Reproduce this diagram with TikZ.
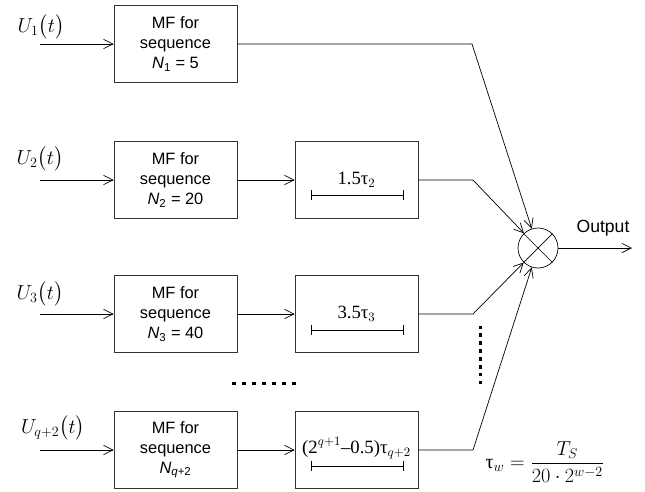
\documentclass[tikz,border=0pt]{standalone}
\usepackage{amsmath}
\usepackage{fontspec}
\setmainfont{Liberation Sans}
\newfontfamily\timesfont{Liberation Serif}
\usetikzlibrary{arrows.meta,calc}
\begin{document}
\begin{tikzpicture}[x=0.03cm,y=-0.03cm,line width=0.6pt,
		>={Straight Barb[length=8pt,width=8pt]},
		blk/.style={draw=black!80,minimum width=3.69cm,minimum height=2.31cm,inner sep=0pt,align=center,font=\fontsize{14}{17}\selectfont},
		sig/.style={inner sep=1pt,font=\fontsize{17}{20}\selectfont},
		tick/.style={{Bar[width=8pt]}-{Bar[width=8pt]},line width=0.5pt}]
		\newcommand{\mydelay}[1]{
			\timesfont\fontsize{16}{18}\selectfont{#1}
		}%Page frame
		\useasboundingbox (0,0) rectangle (645,491);
		%Signals at the inputs
		\node [sig] (u1) at (41,27) {$U_1\bigl(t\bigr)$};
		\node [sig] (u2) at (40,159) {$U_2\bigl(t\bigr)$};
		\node [sig] (u3) at (40,294) {$U_3\bigl(t\bigr)$};
		\node [sig] (u4) at (53,428) {$U_{q+2}\bigl(t\bigr)$};
		\coordinate (in1) at (40,44);
		\coordinate (in2) at (40,180);
		\coordinate (in3) at (40,314);
		\coordinate (in4) at (40,450);
		%Matched filters
		\node [blk] (mf1) at (175.5,44) {MF for\\sequence\\\textit{N}\textsubscript{1} = 5};
		\node [blk] (mf2) at (175.5,180) {MF for\\sequence\\\textit{N}\textsubscript{2} = 20};
		\node [blk] (mf3) at (175.5,314) {MF for\\sequence\\\textit{N}\textsubscript{3} = 40};
		\node [blk] (mf4) at (175.5,450) {MF for\\sequence\\\textit{N}\textsubscript{\textit{q}+2}};
		\draw [->] (in1) -- (mf1);
		\draw [->] (in2) -- (mf2);
		\draw [->] (in3) -- (mf3);
		\draw [->] (in4) -- (mf4);
		%Delay lines
		\node [blk] (dl2) at (356.5,180) {};
		\node [blk] (dl3) at (356.5,314) {};
		\node [blk] (dl4) at (356.5,450) {};
		\node [anchor=base] (dt2) at ($(dl2.center)+(0,4)$) {\mydelay{1.5τ$_{2}$}};
		\node [anchor=base] (dt3) at ($(dl3.center)+(0,4)$) {\mydelay{3.5τ$_{3}$}};
		\node [anchor=base] (dt4) at ($(dl4.center)+(0,3)$) {\mydelay{(2$^{q+1}$–0.5)τ$_{q+2}$}};
		\draw [tick] ($(dl2.center)+(-46,15)$) -- ($(dl2.center)+(47,15)$);
		\draw [tick] ($(dl3.center)+(-46,16)$) -- ($(dl3.center)+(47,16)$);
		\draw [tick] ($(dl4.center)+(-46,16)$) -- ($(dl4.center)+(47,16)$);
		\draw [->] (mf2) -- (dl2);
		\draw [->] (mf3) -- (dl3);
		\draw [->] (mf4) -- (dl4);
		%Summing node
		\node [draw,circle,minimum size=1.2cm,inner sep=0pt] (sum) at (538,248) {};
		\draw (sum.north west) -- (sum.south east);
		\draw (sum.north east) -- (sum.south west);
		%Bends before the summing node
		\coordinate (b1) at (472,44);
		\coordinate (b2) at (473,180);
		\coordinate (b3) at (473,314);
		\coordinate (b4) at (473,450);
		\draw [->] (mf1) -- (b1) -- (sum);
		\draw [->] (dl2) -- (b2) -- (sum);
		\draw [->] (dl3) -- (b3) -- (sum);
		\draw [->] (dl4) -- (b4) -- (sum);
		%Output
		\coordinate (out) at (632,248);
		\draw [->] (sum) -- (out);
		\node [font=\fontsize{15}{18}\selectfont] (outlbl) at (603,228) {Output};
		%Dots for the skipped rows
		\foreach \i in {0,...,6} {
			\fill (232+10*\i,381.5) rectangle +(3.5,3.5);
		}
		\foreach \i in {0,...,7} {
			\fill (478.5,325.5+7.9*\i) rectangle +(3.5,3.5);
		}
		%Delay step
		\node [font=\fontsize{17}{20}\selectfont] (tauw) at (545,462) {{\timesfont τ}$_w = \dfrac{T_S}{20\cdot 2^{w-2}}$};
		\end{tikzpicture}
\end{document}
